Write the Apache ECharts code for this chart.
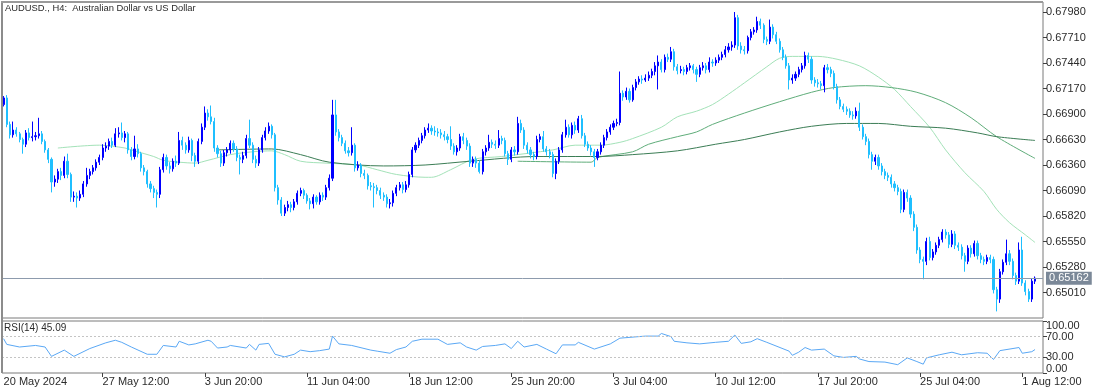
<!DOCTYPE html>
<html><head><meta charset="utf-8">
<script src="https://cdn.jsdelivr.net/npm/echarts@6/dist/echarts.min.js"></script>
<style>html,body{margin:0;padding:0;background:#fff}#c{width:1100px;height:389px}</style>
</head><body><div id="c"></div>
<script>
const chartTitle = 'AUDUSD., H4:  Australian Dollar vs US Dollar';
const tickLabels = ['20 May 2024','27 May 12:00','3 Jun 20:00','11 Jun 04:00','18 Jun 12:00','25 Jun 20:00','3 Jul 04:00','10 Jul 12:00','17 Jul 20:00','25 Jul 04:00','1 Aug 12:00'];
const tickBars = [0, 31, 63, 95, 127, 159, 191, 223, 255, 287, 319];
const emptySlotsRight = 2;
const priceMin = 0.6474, priceMax = 0.68086, priceStep = 0.0027;
const lastPrice = 0.65162;
const lastRsi = 45.09;
const rsiLevels = [30, 70];
const rsiLabelValues = [0, 30, 70, 100];

const firstOpen = 0.6700;
const closes = [
0.6707,0.6679,0.6668,0.6673,0.6669,0.6663,0.6658,0.6670,0.6665,0.6666,
0.6667,0.6669,0.6661,0.6652,0.6642,0.6618,0.6621,0.6629,0.6625,0.6640,
0.6626,0.6602,0.6603,0.6601,0.6605,0.6616,0.6625,0.6629,0.6633,0.6639,
0.6644,0.6654,0.6656,0.6661,0.6657,0.6669,0.6670,0.6665,0.6669,0.6652,
0.6645,0.6653,0.6648,0.6633,0.6629,0.6616,0.6611,0.6607,0.6605,0.6631,
0.6644,0.6635,0.6632,0.6640,0.6638,0.6662,0.6657,0.6652,0.6662,0.6646,
0.6640,0.6661,0.6676,0.6691,0.6687,0.6682,0.6654,0.6648,0.6638,0.6649,
0.6652,0.6659,0.6653,0.6644,0.6642,0.6646,0.6664,0.6657,0.6642,0.6638,
0.6652,0.6665,0.6672,0.6677,0.6668,0.6612,0.6599,0.6585,0.6591,0.6594,
0.6591,0.6597,0.6606,0.6609,0.6604,0.6598,0.6595,0.6602,0.6597,0.6604,
0.6602,0.6612,0.6622,0.6689,0.6671,0.6665,0.6659,0.6651,0.6649,0.6657,
0.6633,0.6636,0.6627,0.6625,0.6614,0.6613,0.6612,0.6609,0.6604,0.6602,
0.6595,0.6596,0.6606,0.6612,0.6615,0.6610,0.6615,0.6626,0.6652,0.6657,
0.6662,0.6667,0.6673,0.6675,0.6672,0.6671,0.6670,0.6668,0.6666,0.6663,
0.6656,0.6650,0.6654,0.6666,0.6662,0.6656,0.6638,0.6642,0.6638,0.6629,
0.6650,0.6654,0.6660,0.6658,0.6657,0.6664,0.6662,0.6648,0.6642,0.6652,
0.6650,0.6680,0.6673,0.6657,0.6652,0.6647,0.6645,0.6663,0.6666,0.6653,
0.6650,0.6647,0.6627,0.6640,0.6652,0.6668,0.6676,0.6668,0.6678,0.6673,
0.6685,0.6667,0.6658,0.6654,0.6650,0.6644,0.6650,0.6657,0.6665,0.6671,
0.6676,0.6680,0.6681,0.6712,0.6708,0.6714,0.6705,0.6718,0.6724,0.6727,
0.6726,0.6728,0.6731,0.6735,0.6741,0.6745,0.6737,0.6750,0.6748,0.6756,
0.6740,0.6736,0.6737,0.6735,0.6739,0.6741,0.6737,0.6732,0.6739,0.6741,
0.6737,0.6745,0.6744,0.6747,0.6750,0.6753,0.6758,0.6761,0.6763,0.6792,
0.6762,0.6758,0.6757,0.6771,0.6777,0.6779,0.6788,0.6784,0.6769,0.6767,
0.6782,0.6774,0.6767,0.6758,0.6750,0.6741,0.6726,0.6728,0.6732,0.6737,
0.6741,0.6752,0.6748,0.6726,0.6723,0.6722,0.6720,0.6739,0.6737,0.6733,
0.6719,0.6705,0.6698,0.6695,0.6693,0.6689,0.6688,0.6693,0.6676,0.6666,
0.6661,0.6647,0.6640,0.6644,0.6635,0.6629,0.6625,0.6623,0.6616,0.6612,
0.6608,0.6589,0.6607,0.6601,0.6584,0.6570,0.6546,0.6536,0.6534,0.6555,
0.6538,0.6544,0.6551,0.6557,0.6565,0.6562,0.6552,0.6563,0.6551,0.6549,
0.6540,0.6534,0.6548,0.6542,0.6553,0.6540,0.6536,0.6534,0.6538,0.6536,
0.6504,0.6494,0.6523,0.6533,0.6542,0.6534,0.6519,0.6513,0.6546,0.6511,
0.6502,0.6494,0.6513,0.65162
];
const highs = [
0.6709,0.6710,0.6682,0.6682,0.6676,0.6671,0.6665,0.6673,0.6675,0.6682,
0.6671,0.6686,0.6672,0.6663,0.6654,0.6644,0.6625,0.6632,0.6633,0.6645,
0.6648,0.6628,0.6608,0.6607,0.6609,0.6619,0.6633,0.6632,0.6636,0.6642,
0.6647,0.6658,0.6660,0.6664,0.6665,0.6675,0.6676,0.6681,0.6672,0.6671,
0.6655,0.6667,0.6658,0.6650,0.6636,0.6631,0.6619,0.6614,0.6610,0.6634,
0.6648,0.6647,0.6639,0.6643,0.6646,0.6671,0.6666,0.6660,0.6666,0.6664,
0.6649,0.6664,0.6680,0.6698,0.6695,0.6699,0.6686,0.6657,0.6651,0.6652,
0.6655,0.6662,0.6662,0.6656,0.6647,0.6650,0.6668,0.6684,0.6660,0.6646,
0.6655,0.6668,0.6676,0.6681,0.6679,0.6670,0.6615,0.6602,0.6594,0.6598,
0.6597,0.6600,0.6609,0.6612,0.6611,0.6606,0.6601,0.6605,0.6604,0.6607,
0.6607,0.6615,0.6626,0.6705,0.6705,0.6674,0.6668,0.6662,0.6655,0.6676,
0.6659,0.6640,0.6638,0.6631,0.6627,0.6618,0.6617,0.6615,0.6612,0.6607,
0.6605,0.6600,0.6609,0.6615,0.6618,0.6618,0.6619,0.6629,0.6655,0.6660,
0.6665,0.6670,0.6676,0.6680,0.6678,0.6677,0.6675,0.6674,0.6672,0.6669,
0.6677,0.6659,0.6657,0.6669,0.6670,0.6665,0.6659,0.6645,0.6645,0.6641,
0.6653,0.6657,0.6668,0.6663,0.6662,0.6673,0.6667,0.6665,0.6651,0.6655,
0.6656,0.6687,0.6684,0.6676,0.6660,0.6655,0.6650,0.6667,0.6669,0.6672,
0.6656,0.6653,0.6650,0.6643,0.6655,0.6671,0.6684,0.6679,0.6681,0.6682,
0.6688,0.6689,0.6670,0.6661,0.6657,0.6653,0.6653,0.6660,0.6668,0.6674,
0.6679,0.6683,0.6685,0.6735,0.6715,0.6718,0.6717,0.6721,0.6727,0.6730,
0.6731,0.6732,0.6735,0.6738,0.6745,0.6752,0.6748,0.6753,0.6754,0.6761,
0.6759,0.6743,0.6741,0.6740,0.6742,0.6744,0.6743,0.6740,0.6742,0.6745,
0.6744,0.6750,0.6748,0.6750,0.6753,0.6756,0.6762,0.6765,0.6767,0.6798,
0.6795,0.6766,0.6762,0.6773,0.6780,0.6782,0.6793,0.6791,0.6786,0.6772,
0.6790,0.6785,0.6777,0.6770,0.6761,0.6753,0.6744,0.6732,0.6735,0.6740,
0.6744,0.6756,0.6755,0.6751,0.6729,0.6727,0.6725,0.6742,0.6743,0.6740,
0.6736,0.6722,0.6708,0.6701,0.6698,0.6696,0.6693,0.6697,0.6702,0.6679,
0.6669,0.6664,0.6650,0.6647,0.6647,0.6638,0.6632,0.6628,0.6626,0.6619,
0.6615,0.6611,0.6610,0.6610,0.6604,0.6587,0.6573,0.6549,0.6539,0.6559,
0.6560,0.6547,0.6554,0.6560,0.6568,0.6568,0.6565,0.6567,0.6566,0.6554,
0.6552,0.6543,0.6551,0.6551,0.6556,0.6556,0.6543,0.6539,0.6541,0.6541,
0.6539,0.6507,0.6526,0.6536,0.6557,0.6546,0.6537,0.6522,0.6554,0.6560,
0.6514,0.6505,0.6516,0.6518
];
const lows = [
0.6698,0.6676,0.6664,0.6665,0.6666,0.6660,0.6648,0.6655,0.6662,0.6661,
0.6662,0.6664,0.6658,0.6649,0.6638,0.6607,0.6613,0.6617,0.6620,0.6622,
0.6622,0.6597,0.6597,0.6591,0.6598,0.6602,0.6613,0.6621,0.6626,0.6630,
0.6636,0.6641,0.6650,0.6652,0.6654,0.6655,0.6665,0.6662,0.6660,0.6648,
0.6641,0.6642,0.6644,0.6629,0.6625,0.6612,0.6607,0.6601,0.6591,0.6601,
0.6628,0.6631,0.6627,0.6629,0.6634,0.6636,0.6652,0.6648,0.6649,0.6640,
0.6634,0.6637,0.6658,0.6673,0.6683,0.6679,0.6650,0.6644,0.6634,0.6635,
0.6645,0.6648,0.6650,0.6640,0.6626,0.6638,0.6643,0.6654,0.6638,0.6633,
0.6635,0.6649,0.6662,0.6669,0.6664,0.6608,0.6594,0.6582,0.6582,0.6587,
0.6586,0.6588,0.6594,0.6603,0.6600,0.6595,0.6589,0.6590,0.6594,0.6594,
0.6598,0.6599,0.6609,0.6619,0.6667,0.6661,0.6656,0.6648,0.6645,0.6646,
0.6629,0.6630,0.6623,0.6621,0.6610,0.6609,0.6591,0.6605,0.6600,0.6598,
0.6591,0.6590,0.6592,0.6603,0.6609,0.6606,0.6607,0.6612,0.6623,0.6649,
0.6654,0.6659,0.6664,0.6670,0.6668,0.6667,0.6666,0.6664,0.6662,0.6659,
0.6652,0.6647,0.6646,0.6651,0.6658,0.6652,0.6634,0.6634,0.6633,0.6627,
0.6626,0.6646,0.6651,0.6654,0.6653,0.6654,0.6658,0.6645,0.6636,0.6639,
0.6646,0.6647,0.6670,0.6653,0.6648,0.6643,0.6641,0.6642,0.6660,0.6650,
0.6646,0.6643,0.6623,0.6621,0.6637,0.6649,0.6665,0.6665,0.6664,0.6669,
0.6670,0.6664,0.6655,0.6651,0.6646,0.6634,0.6641,0.6647,0.6654,0.6662,
0.6668,0.6673,0.6677,0.6678,0.6704,0.6705,0.6702,0.6703,0.6715,0.6721,
0.6722,0.6724,0.6725,0.6728,0.6731,0.6716,0.6734,0.6734,0.6745,0.6745,
0.6736,0.6732,0.6733,0.6731,0.6732,0.6736,0.6733,0.6724,0.6729,0.6736,
0.6733,0.6734,0.6740,0.6741,0.6744,0.6747,0.6750,0.6755,0.6757,0.6760,
0.6758,0.6754,0.6753,0.6754,0.6768,0.6774,0.6776,0.6780,0.6765,0.6763,
0.6764,0.6770,0.6764,0.6755,0.6747,0.6738,0.6716,0.6722,0.6725,0.6729,
0.6734,0.6738,0.6744,0.6722,0.6719,0.6718,0.6716,0.6713,0.6733,0.6729,
0.6716,0.6701,0.6695,0.6692,0.6689,0.6686,0.6684,0.6685,0.6672,0.6663,
0.6657,0.6643,0.6631,0.6636,0.6631,0.6625,0.6621,0.6619,0.6612,0.6608,
0.6604,0.6585,0.6586,0.6597,0.6580,0.6566,0.6542,0.6532,0.6515,0.6530,
0.6535,0.6535,0.6541,0.6548,0.6554,0.6558,0.6548,0.6549,0.6547,0.6545,
0.6536,0.6523,0.6531,0.6538,0.6539,0.6536,0.6532,0.6530,0.6531,0.6532,
0.6500,0.6481,0.6490,0.6520,0.6530,0.6530,0.6515,0.6509,0.6510,0.6508,
0.6498,0.6491,0.6491,0.6510
];

// moving averages: [bar index, value]
const maLight = [[17,0.6654],[30,0.6657],[38,0.6654],[41,0.6651],[47,0.6645],[50,0.6641],[55,0.6639],[60,0.6638],[64,0.6641],[71,0.6647],[78,0.6650],[84,0.6651],[88,0.6647],[93,0.6640],[101,0.6638],[111,0.6636],[117,0.6631],[123,0.6626],[132,0.6623],[134,0.6623],[140,0.6631],[147,0.6642],[156,0.6645],[172,0.6652],[179,0.6657],[187,0.6657],[193,0.6660],[197,0.6664],[206,0.6676],[211,0.6687],[217,0.6693],[222,0.6700],[227,0.6711],[232,0.6723],[239,0.6740],[243,0.6749],[247,0.6751],[255,0.6751],[261,0.6748],[268,0.6741],[274,0.6729],[279,0.6716],[284,0.6698],[290,0.6676],[295,0.6652],[301,0.6628],[307,0.6608],[311,0.6589],[315,0.6575],[320,0.6562],[323,0.6554]];
const maMedium = [[161,0.6640],[184,0.6639],[186,0.6644],[197,0.6650],[202,0.6658],[211,0.6666],[217,0.6671],[222,0.6679],[232,0.6691],[243,0.6703],[253,0.6713],[260,0.6718],[270,0.6720],[278,0.6718],[286,0.6713],[295,0.6702],[303,0.6686],[311,0.6666],[323,0.6643]];
const maDark = [[67,0.6652],[84,0.6653],[93,0.6647],[102,0.6639],[119,0.6635],[132,0.6636],[146,0.6640],[167,0.6645],[186,0.6645],[197,0.6647],[211,0.6651],[223,0.6658],[232,0.6663],[243,0.6671],[253,0.6677],[264,0.6680],[274,0.6680],[284,0.6677],[295,0.6675],[305,0.6670],[311,0.6666],[323,0.6662]];

// RSI(14): [bar index, value]
const rsi = [[0,66],[1,55],[5,50],[10,53],[13,50],[15,32],[19,44],[22,32],[27,47],[32,58],[35,63],[37,59],[40,50],[45,36],[48,36],[50,53],[54,50],[55,61],[58,54],[60,56],[64,63],[65,61],[67,48],[70,50],[71,53],[76,48],[77,55],[79,44],[80,55],[83,57],[85,36],[88,31],[91,36],[93,44],[96,41],[99,43],[102,46],[103,71],[105,56],[109,53],[111,50],[115,44],[117,42],[121,38],[123,45],[126,50],[128,61],[131,65],[136,65],[139,55],[143,58],[145,50],[148,44],[150,51],[154,53],[157,56],[159,47],[161,61],[163,50],[167,55],[170,46],[173,37],[175,54],[179,54],[180,59],[185,46],[190,56],[193,67],[201,71],[205,71],[206,76],[209,70],[210,61],[214,58],[218,56],[223,59],[227,61],[229,73],[231,57],[234,60],[236,66],[239,59],[246,42],[247,34],[249,40],[251,49],[253,44],[257,46],[260,33],[263,30],[267,32],[268,27],[271,22],[276,21],[280,16],[283,29],[286,22],[288,17],[289,29],[293,35],[297,40],[300,35],[305,39],[308,38],[310,26],[312,43],[318,49],[319,38],[322,41],[323,45.09]];

const FONT = '"Liberation Sans", Arial, sans-serif';
const TXT = '#2b2b2b';
const BULL = '#0000ff', BEAR = '#1fbfff';

const nSlots = closes.length + emptySlotsRight;
const cats = Array.from({length: nSlots}, (_, i) => String(i));
const candles = closes.map((c, i) => {
  const o = i === 0 ? firstOpen : closes[i - 1];
  return [o, c, Math.min(lows[i], o, c), Math.max(highs[i], o, c)];
});
const isLabelBar = (i) => tickBars.indexOf(i) >= 0;

const chart = echarts.init(document.getElementById('c'), null, {renderer: 'canvas'});
chart.setOption({
  animation: false,
  backgroundColor: '#ffffff',
  textStyle: {fontFamily: FONT},
  title: [
    {text: chartTitle, left: 5, top: 4, padding: 0, textStyle: {fontSize: 9.4, fontWeight: 'normal', color: TXT, fontFamily: FONT}},
    {text: 'RSI(14) ' + lastRsi.toFixed(2), left: 4, top: 323, padding: 0, textStyle: {fontSize: 10, fontWeight: 'normal', color: TXT, fontFamily: FONT}}
  ],
  graphic: [
    {type: 'rect', left: 1, top: 1, shape: {width: 2, height: 372}, style: {fill: '#8c8c8c'}, silent: true, z: 100},
    {type: 'rect', left: 1, top: 1, shape: {width: 1042, height: 2}, style: {fill: '#9a9a9a'}, silent: true, z: 100}
  ],
  grid: [
    {left: 2, right: 57, top: 2, height: 316, show: true, borderColor: '#7a7a7a', borderWidth: 1, backgroundColor: 'transparent'},
    {left: 2, right: 57, top: 321, height: 52, show: true, borderColor: '#7a7a7a', borderWidth: 1, backgroundColor: 'transparent'}
  ],
  xAxis: [
    {type: 'category', gridIndex: 0, data: cats, boundaryGap: true,
     axisLine: {show: false}, axisTick: {show: false}, axisLabel: {show: false}, splitLine: {show: false}},
    {type: 'category', gridIndex: 1, data: cats, boundaryGap: true,
     axisLine: {show: false},
     axisTick: {show: true, alignWithLabel: true, length: 4, interval: (i) => isLabelBar(i) && i > 0, lineStyle: {color: '#404040'}},
     axisLabel: {show: true, interval: (i) => isLabelBar(i), align: 'left', margin: 3, fontSize: 11, color: TXT, fontFamily: FONT,
       formatter: (v, i) => { const k = tickBars.indexOf(i); return k >= 0 ? tickLabels[k] : ''; }},
     splitLine: {show: false}}
  ],
  yAxis: [
    {type: 'value', gridIndex: 0, position: 'right', min: priceMin, max: priceMax, interval: priceStep,
     axisLine: {show: false}, splitLine: {show: false},
     axisTick: {show: true, length: 4, lineStyle: {color: '#404040'}},
     axisLabel: {show: true, margin: 3, fontSize: 11, color: TXT, fontFamily: FONT, showMinLabel: false, showMaxLabel: false,
       formatter: (v) => v.toFixed(5)}},
    {type: 'value', gridIndex: 1, position: 'right', min: 0, max: 100, interval: 10,
     axisLine: {show: false}, splitLine: {show: false},
     axisTick: {show: true, length: 4, customValues: rsiLabelValues, lineStyle: {color: '#404040'}},
     axisLabel: {show: true, margin: 3, fontSize: 11, color: TXT, fontFamily: FONT, customValues: rsiLabelValues,
       formatter: (v) => {
         if (v === 100) return '{t|100.00}';
         if (v === 0) return '{b|0.00}';
         if (rsiLabelValues.indexOf(v) >= 0) return v.toFixed(2);
         return '';
       },
       rich: {
         t: {fontSize: 11, color: TXT, fontFamily: FONT, padding: [9, 0, 0, 0]},
         b: {fontSize: 11, color: TXT, fontFamily: FONT, padding: [0, 0, 9, 0]}
       }}}
  ],
  series: [
    {type: 'candlestick', xAxisIndex: 0, yAxisIndex: 0, data: candles, barWidth: 1.6, z: 3,
     itemStyle: {color: BULL, color0: BEAR, borderColor: BULL, borderColor0: BEAR, borderWidth: 1}},
    {type: 'line', name: 'MA fast', xAxisIndex: 0, yAxisIndex: 0, data: maLight, showSymbol: false, connectNulls: true, smooth: 0.3,
     lineStyle: {color: '#a3e2b8', width: 1}, z: 2},
    {type: 'line', name: 'MA mid', xAxisIndex: 0, yAxisIndex: 0, data: maMedium, showSymbol: false, connectNulls: true, smooth: 0.3,
     lineStyle: {color: '#5fad7a', width: 1}, z: 2},
    {type: 'line', name: 'MA slow', xAxisIndex: 0, yAxisIndex: 0, data: maDark, showSymbol: false, connectNulls: true, smooth: 0.3,
     lineStyle: {color: '#3b7d55', width: 1}, z: 2,
     markLine: {silent: true, symbol: ['none', 'none'], animation: false, precision: 5,
       lineStyle: {color: '#8d9bad', width: 1, type: 'solid'},
       label: {show: true, position: 'end', distance: 3, formatter: () => lastPrice.toFixed(5),
         backgroundColor: '#7b8898', color: '#ffffff', fontSize: 11, fontFamily: FONT, padding: [1, 3, 1, 3]},
       data: [{yAxis: lastPrice}]}},
    {type: 'line', name: 'RSI', xAxisIndex: 1, yAxisIndex: 1, data: rsi, showSymbol: false, connectNulls: true,
     lineStyle: {color: '#5aa8f5', width: 1},
     markLine: {silent: true, symbol: ['none', 'none'], animation: false, label: {show: false}, precision: 2,
       lineStyle: {color: '#c4c4c4', width: 1, type: [2, 2]},
       data: rsiLevels.map(v => ({yAxis: v}))}}
  ]
});
</script></body></html>
